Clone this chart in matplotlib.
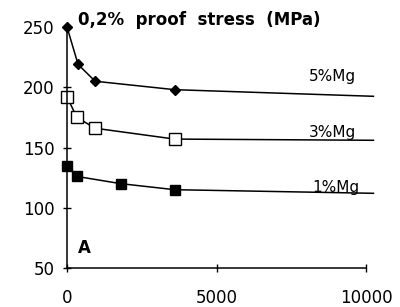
import matplotlib
matplotlib.use("Agg")
import matplotlib.pyplot as plt

# ageing time vs 0.2% proof stress
x5 = [0, 370, 940, 3600, 10250]
y5 = [250, 219, 205, 198, 192.5]
x3 = [0, 330, 940, 3600, 10250]
y3 = [192, 175, 166, 157, 156]
x1 = [0, 330, 1800, 3600, 10250]
y1 = [135, 126, 120, 115, 112]
labels = ["5%Mg", "3%Mg", "1%Mg"]

plt.rcParams["font.family"] = ["DejaVu Sans"]

fig = plt.figure(figsize=(4.0, 3.07), dpi=100)
ax = fig.add_axes([0.1675, 0.127, 0.7475, 0.785])

lw = 1.1
ax.plot(x5, y5, color="black", lw=lw, clip_on=False)
ax.plot(x5[:-1], y5[:-1], ls="none", marker="D", ms=5, color="black", clip_on=False)
ax.plot(x3, y3, color="black", lw=lw, clip_on=False)
ax.plot(x3[:-1], y3[:-1], ls="none", marker="s", ms=9, mfc="white", mec="black",
        mew=1.0, clip_on=False)
ax.plot(x1, y1, color="black", lw=lw, clip_on=False)
ax.plot(x1[:-1], y1[:-1], ls="none", marker="s", ms=7, color="black", clip_on=False)

ax.set_xlim(0, 10000)
ax.set_ylim(50, 250)
ax.set_xticks([0, 5000, 10000])
ax.set_yticks([50, 100, 150, 200, 250])
for s in ("top", "right"):
    ax.spines[s].set_visible(False)
for s in ("left", "bottom"):
    ax.spines[s].set_linewidth(1.1)
ax.tick_params(direction="inout", length=6, width=1.0, labelsize=12)
ax.tick_params(axis="x", pad=12)
ax.tick_params(axis="y", pad=6)

ax.text(8100, 203, labels[0], fontsize=11, ha="left", va="bottom")
ax.text(8100, 156.5, labels[1], fontsize=11, ha="left", va="bottom")
ax.text(8200, 111, labels[2], fontsize=11, ha="left", va="bottom")
ax.text(370, 256, "0,2%  proof  stress  (MPa)", fontsize=12, fontweight="bold",
        ha="left", va="center")
ax.text(350, 67, "A", fontsize=12, fontweight="bold", ha="left", va="center")

fig.savefig("out.png", dpi=100, facecolor="white")
